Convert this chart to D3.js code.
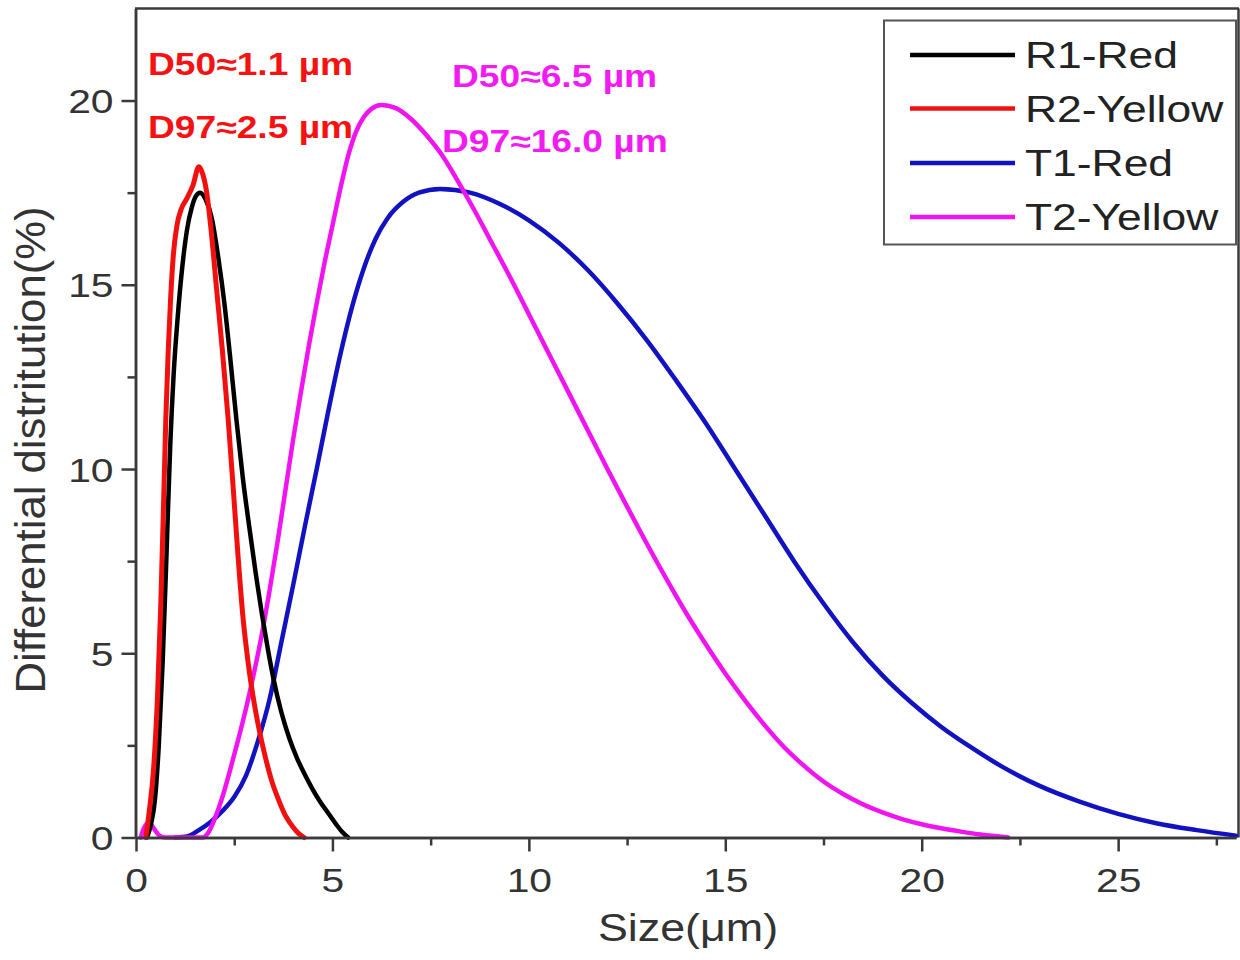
<!DOCTYPE html>
<html>
<head>
<meta charset="utf-8">
<script src="https://cdn.jsdelivr.net/npm/d3@7"></script>
<style>
  html, body { margin: 0; padding: 0; background: #fff; }
  svg { display: block; }
  text { font-family: "Liberation Sans", Arial, sans-serif; }
</style>
</head>
<body>
<svg id="chart" width="1240" height="960"></svg>
<script>
// ---------------- data ----------------
const seriesNames = ["R1-Red", "R2-Yellow", "T1-Red", "T2-Yellow"];
const seriesColors = ["#000000", "#f01010", "#1212c0", "#f014f0"];

const r1X = [0.28,0.38,0.48,0.58,0.68,0.78,0.87,0.96,1.06,1.18,1.3,1.42,1.52,1.63,1.78,1.93,2.1,2.25,2.4,2.56,2.72,2.9,3.05,3.2,3.35,3.5,3.7,3.9,4.1,4.3,4.5,4.7,4.9,5.1,5.25,5.4];
const r1Y = [0,0.35,1.0,2.5,4.8,7.8,10.6,12.6,14.1,15.5,16.5,17.1,17.4,17.5,17.3,16.8,15.7,14.5,13.0,11.3,9.75,8.3,7.15,6.1,5.15,4.3,3.4,2.7,2.15,1.7,1.3,0.95,0.65,0.35,0.15,0];

const r2X = [0.25,0.33,0.45,0.55,0.63,0.7,0.76,0.82,0.88,0.95,1.04,1.15,1.3,1.45,1.6,1.7,1.8,1.9,2.05,2.2,2.35,2.48,2.6,2.73,2.86,3.0,3.15,3.3,3.45,3.6,3.8,4.0,4.15,4.28];
const r2Y = [0,0.65,1.9,3.9,6.3,9.0,11.4,13.2,14.6,15.8,16.6,17.05,17.35,17.7,18.2,18.0,17.5,16.6,14.9,13.2,11.3,9.4,7.6,5.9,4.7,3.7,2.85,2.15,1.55,1.1,0.6,0.28,0.1,0];

const t1X = [1.0,1.3,1.6,1.9,2.2,2.5,2.8,3.1,3.4,3.7,4.0,4.3,4.6,4.9,5.2,5.5,5.8,6.1,6.4,6.8,7.2,7.74,8.5,9.25,10,10.75,11.5,12.25,13,13.75,14.5,15.25,16,16.75,17.5,18.25,19,19.75,20.5,21.25,22,23,24,25,26,27,28];
const t1Y = [0,0.03,0.2,0.42,0.72,1.1,1.68,2.6,3.75,5.3,6.85,8.45,10.0,11.6,13.1,14.4,15.45,16.25,16.8,17.25,17.5,17.6,17.5,17.2,16.75,16.15,15.4,14.5,13.5,12.4,11.25,10.0,8.75,7.5,6.35,5.3,4.4,3.65,3.0,2.45,1.95,1.4,0.98,0.64,0.38,0.2,0.05];

const t2X = [0.12,0.2,0.33,0.45,0.6,0.75,1.2,1.7,1.85,2.0,2.2,2.4,2.6,2.8,3.0,3.2,3.4,3.6,3.8,4.0,4.2,4.4,4.6,4.8,5.0,5.2,5.4,5.6,5.8,6.0,6.25,6.6,7.0,7.4,7.8,8.2,8.6,9.0,9.5,10,10.5,11,11.5,12,12.5,13,13.5,14,14.5,15,15.5,16,16.5,17,17.5,18,18.5,19,19.5,20,20.5,21,21.5,22.2];
const t2Y = [0,0.25,0.4,0.25,0.05,0,0,0,0.15,0.5,1.1,1.85,2.65,3.5,4.45,5.5,6.7,8.0,9.4,10.8,12.1,13.35,14.5,15.6,16.6,17.6,18.5,19.15,19.55,19.78,19.88,19.8,19.5,19.05,18.5,17.8,17.05,16.25,15.25,14.2,13.15,12.1,11.05,10.0,8.98,7.98,7.02,6.1,5.25,4.45,3.72,3.05,2.45,1.95,1.52,1.18,0.9,0.68,0.5,0.36,0.25,0.16,0.08,0];

const xMajorTicks = [0,5,10,15,20,25];
const xMinorTicks = [2.5,7.5,12.5,17.5,22.5,27.5];
const yMajorTicks = [0,5,10,15,20];
const yMinorTicks = [2.5,7.5,12.5,17.5];

const xTitle = "Size(μm)";
const yTitle = "Differential distritution(%)";
const annotations = [
  {text: "D50≈1.1 µm", color: "#f41212", x: 148, y: 75},
  {text: "D97≈2.5 µm", color: "#f41212", x: 148, y: 138},
  {text: "D50≈6.5 µm", color: "#f21cf2", x: 452, y: 87},
  {text: "D97≈16.0 µm", color: "#f21cf2", x: 442, y: 152}
];

// ---------------- chart ----------------
const svg = d3.select("#chart");
const x = d3.scaleLinear().domain([0, 28]).range([136, 1236]);
const y = d3.scaleLinear().domain([0, 22.5]).range([837.5, 8.4]);
const axisColor = "#3a3a3a";
const TS = 1.2; // horizontal text stretch of the original

const series = [
  {name: seriesNames[0], color: seriesColors[0], xs: r1X, ys: r1Y},
  {name: seriesNames[1], color: seriesColors[1], xs: r2X, ys: r2Y},
  {name: seriesNames[2], color: seriesColors[2], xs: t1X, ys: t1Y},
  {name: seriesNames[3], color: seriesColors[3], xs: t2X, ys: t2Y}
];

// frame (top & right)
svg.append("line").attr("x1", x(0) - 1).attr("x2", 1239).attr("y1", y(22.5)).attr("y2", y(22.5))
  .attr("stroke", axisColor).attr("stroke-width", 2.5);
svg.append("line").attr("x1", 1238.5).attr("x2", 1238.5).attr("y1", y(22.5)).attr("y2", y(0))
  .attr("stroke", axisColor).attr("stroke-width", 2.5);

// curves
const line = d3.line().x(d => x(d[0])).y(d => y(d[1])).curve(d3.curveMonotoneX);
const order = [2, 3, 0, 1];
order.forEach(i => {
  const s = series[i];
  const pts = s.xs.map((v, k) => [v, s.ys[k]]);
  svg.append("path").datum(pts).attr("d", line)
    .attr("fill", "none").attr("stroke", s.color)
    .attr("stroke-width", i === 1 ? 5 : 4.5)
    .attr("stroke-linejoin", "round").attr("stroke-linecap", "round");
});

// axes
function styleAxis(g) {
  g.select(".domain").attr("stroke", axisColor).attr("stroke-width", 2.5);
  g.selectAll(".tick line").attr("stroke", axisColor).attr("stroke-width", 2.5);
}
const xMinor = svg.append("g").attr("transform", `translate(0,${y(0)})`)
  .call(d3.axisBottom(x).tickValues(xMinorTicks).tickSize(8).tickSizeOuter(0).tickFormat(""));
styleAxis(xMinor);
const xMajor = svg.append("g").attr("transform", `translate(0,${y(0)})`)
  .call(d3.axisBottom(x).tickValues(xMajorTicks).tickSize(14).tickSizeOuter(0).tickFormat(d3.format("d")));
styleAxis(xMajor);
xMajor.selectAll(".tick text")
  .attr("y", 54.5).attr("dy", 0)
  .attr("font-size", 34).attr("fill", "#333")
  .attr("transform", `scale(${TS},1)`);

const yMinor = svg.append("g").attr("transform", `translate(${x(0) - 0.5},0)`)
  .call(d3.axisLeft(y).tickValues(yMinorTicks).tickSize(8).tickSizeOuter(0).tickFormat(""));
styleAxis(yMinor);
const yMajor = svg.append("g").attr("transform", `translate(${x(0) - 0.5},0)`)
  .call(d3.axisLeft(y).tickValues(yMajorTicks).tickSize(14).tickSizeOuter(0).tickFormat(d3.format("d")));
styleAxis(yMajor);
yMajor.selectAll(".tick text")
  .attr("x", -22 / TS).attr("dy", 0).attr("y", 12)
  .attr("font-size", 34).attr("fill", "#333")
  .attr("transform", `scale(${TS},1)`);

// axis titles
svg.append("text").text(xTitle)
  .attr("transform", `translate(688,941) scale(1.18,1)`)
  .attr("text-anchor", "middle").attr("font-size", 38).attr("fill", "#333");
svg.append("text").text(yTitle)
  .attr("transform", `translate(45,450) rotate(-90) scale(1.15,1.1)`)
  .attr("text-anchor", "middle").attr("font-size", 38).attr("fill", "#333");

// annotations
annotations.forEach(a => {
  svg.append("text").text(a.text)
    .attr("transform", `translate(${a.x},${a.y}) scale(${TS},1)`)
    .attr("font-size", 31).attr("font-weight", "bold").attr("fill", a.color);
});

// legend
const legend = svg.append("g");
legend.append("rect").attr("x", 884).attr("y", 20.5).attr("width", 352).attr("height", 224)
  .attr("fill", "#fff").attr("stroke", "#555").attr("stroke-width", 2);
const legendRows = [55, 108.5, 163, 217];
series.forEach((s, i) => {
  legend.append("line").attr("x1", 910).attr("x2", 1015)
    .attr("y1", legendRows[i]).attr("y2", legendRows[i])
    .attr("stroke", s.color).attr("stroke-width", 4.5);
  legend.append("text").text(s.name)
    .attr("transform", `translate(1025,${legendRows[i] + 13}) scale(${TS},1)`)
    .attr("font-size", 37).attr("fill", "#222");
});
</script>
</body>
</html>
